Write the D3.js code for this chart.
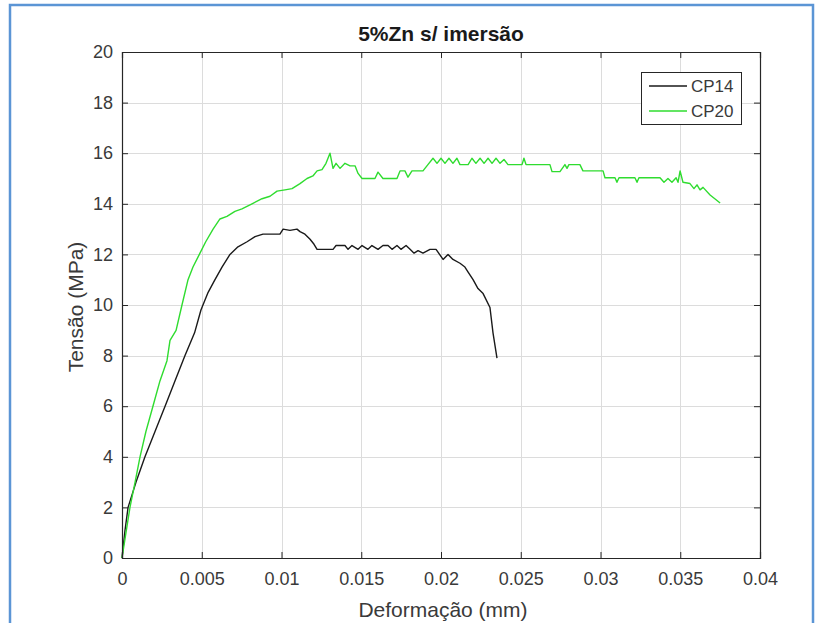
<!DOCTYPE html>
<html>
<head>
<meta charset="utf-8">
<script src="https://cdn.jsdelivr.net/npm/d3@7"></script>
<style>
  html, body { margin: 0; padding: 0; background: #fff; }
  svg { display: block; font-family: "Liberation Sans", Arial, sans-serif; }
</style>
</head>
<body>
<svg id="chart" width="827" height="623"></svg>
<script>
// ---- Data (strain in mm, stress in MPa) ----
const titleText = "5%Zn s/ imersão";
const xLabelText = "Deformação (mm)";
const yLabelText = "Tensão (MPa)";
const seriesNames = ["CP14", "CP20"];
const xTicks = [0, 0.005, 0.01, 0.015, 0.02, 0.025, 0.03, 0.035, 0.04];
const yTicks = [0, 2, 4, 6, 8, 10, 12, 14, 16, 18, 20];

const cp14 = [
  [0,0],[0.00019,1.1],[0.00038,2.0],[0.00088,3.0],[0.00144,4.0],[0.00207,5.0],
  [0.0027,6.0],[0.00332,7.0],[0.00395,8.0],[0.00455,8.9],[0.00495,9.8],[0.0054,10.5],
  [0.00583,11.0],[0.00627,11.5],[0.00677,12.0],[0.00727,12.3],[0.00784,12.5],[0.00834,12.7],
  [0.00884,12.8],[0.0094,12.8],[0.0099,12.8],[0.0101,13.0],[0.01053,12.95],[0.01097,13.0],
  [0.01116,12.9],[0.01147,12.8],[0.01179,12.6],[0.01204,12.4],[0.01223,12.2],[0.01273,12.2],
  [0.01323,12.2],[0.01342,12.35],[0.01398,12.35],[0.01417,12.2],[0.01442,12.35],[0.0148,12.2],
  [0.01505,12.35],[0.01542,12.2],[0.01567,12.35],[0.01605,12.2],[0.01636,12.35],[0.01668,12.35],
  [0.01693,12.2],[0.01724,12.35],[0.01749,12.2],[0.01781,12.35],[0.01806,12.2],[0.01831,12.05],
  [0.01856,12.15],[0.01887,12.05],[0.01931,12.2],[0.01969,12.2],[0.02013,11.8],[0.02044,12.0],
  [0.02075,11.8],[0.02119,11.65],[0.0215,11.5],[0.0217,11.3],[0.02201,11.0],[0.02232,10.65],
  [0.02264,10.45],[0.02307,9.9],[0.02326,8.9],[0.02351,7.9]
];

const cp20 = [
  [0,0],[0.00025,1.0],[0.0005,2.0],[0.00082,3.0],[0.00113,4.0],[0.0015,5.0],[0.00194,6.0],
  [0.00238,7.0],[0.00282,7.8],[0.00301,8.6],[0.00339,9.0],[0.00376,10.0],[0.00414,11.0],
  [0.00445,11.5],[0.00485,12.0],[0.00525,12.5],[0.00571,13.0],[0.00614,13.4],[0.00658,13.5],
  [0.00708,13.7],[0.00752,13.8],[0.00815,14.0],[0.00878,14.2],[0.00928,14.3],[0.00972,14.5],
  [0.01022,14.55],[0.01066,14.6],[0.01116,14.8],[0.0116,15.0],[0.01197,15.1],[0.01223,15.3],
  [0.01254,15.35],[0.01279,15.6],[0.01304,16.0],[0.01323,15.4],[0.01342,15.6],[0.01367,15.4],
  [0.01398,15.6],[0.0143,15.5],[0.01461,15.5],[0.0148,15.2],[0.01505,15.0],[0.01586,15.0],
  [0.01605,15.25],[0.01636,15.0],[0.01724,15.0],[0.01743,15.3],[0.01774,15.3],[0.01793,15.05],
  [0.01818,15.3],[0.01887,15.3],[0.01918,15.55],[0.0195,15.8],[0.01975,15.6],[0.02,15.8],
  [0.02025,15.6],[0.0205,15.8],[0.02075,15.6],[0.021,15.8],[0.02119,15.55],[0.0217,15.55],
  [0.02194,15.8],[0.02219,15.6],[0.02245,15.8],[0.0227,15.6],[0.02295,15.8],[0.0232,15.6],
  [0.02345,15.8],[0.0237,15.6],[0.02395,15.75],[0.0242,15.55],[0.02508,15.55],[0.0252,15.8],
  [0.02533,15.55],[0.02683,15.55],[0.02696,15.27],[0.02746,15.27],[0.02777,15.55],[0.0279,15.4],
  [0.02802,15.55],[0.02871,15.55],[0.0289,15.3],[0.03016,15.3],[0.03028,15.03],[0.03091,15.03],
  [0.03103,14.85],[0.03116,15.03],[0.03216,15.03],[0.03229,14.85],[0.03241,15.03],[0.03373,15.03],
  [0.03398,14.85],[0.03423,15.0],[0.03448,14.85],[0.03474,15.03],[0.03486,14.85],[0.03499,15.3],
  [0.03517,14.85],[0.03561,14.8],[0.03586,14.6],[0.03605,14.75],[0.03624,14.55],[0.03643,14.65],
  [0.03687,14.35],[0.0375,14.03]
];

const seriesData = [cp14, cp20];
const seriesColors = ["#1a1a1a", "#2fdc2f"];

// ---- Layout ----
const svg = d3.select("#chart");
const L = 122, R = 760, T = 52, B = 558;
const x = d3.scaleLinear().domain([0, 0.04]).range([L, R]);
const y = d3.scaleLinear().domain([0, 20]).range([B, T]);
const axisColor = "#262626";
const textColor = "#3a3a3a";

// outer blue frame
svg.append("rect").attr("x", 10).attr("y", 5).attr("width", 803).attr("height", 640)
  .attr("fill", "none").attr("stroke", "#5b95d5").attr("stroke-width", 2.5);

// grid
const grid = svg.append("g").attr("stroke", "#dcdcdc").attr("stroke-width", 1);
grid.selectAll("line.gx").data(xTicks.slice(1, -1)).join("line")
  .attr("x1", d => Math.round(x(d)) + 0.5).attr("x2", d => Math.round(x(d)) + 0.5)
  .attr("y1", T).attr("y2", B);
grid.selectAll("line.gy").data(yTicks.slice(1, -1)).join("line")
  .attr("y1", d => Math.round(y(d)) + 0.5).attr("y2", d => Math.round(y(d)) + 0.5)
  .attr("x1", L).attr("x2", R);

// lines
const line = d3.line().x(d => x(d[0])).y(d => y(d[1]));
svg.append("g").selectAll("path").data(seriesData).join("path")
  .attr("d", line).attr("fill", "none")
  .attr("stroke", (d, i) => seriesColors[i]).attr("stroke-width", 1.4)
  .attr("stroke-linejoin", "round");

// axes (ticks inward, box on)
const tickLen = 6;
const xAxis = svg.append("g").attr("transform", `translate(0,${B})`)
  .call(d3.axisBottom(x).tickValues(xTicks).tickSize(-tickLen).tickPadding(14)
        .tickFormat(d => d3.format("")(+d.toFixed(3))));
const yAxis = svg.append("g").attr("transform", `translate(${L},0)`)
  .call(d3.axisLeft(y).tickValues(yTicks).tickSize(-tickLen).tickPadding(9));
const xTop = svg.append("g").attr("transform", `translate(0,${T})`)
  .call(d3.axisTop(x).tickValues(xTicks).tickSize(-tickLen).tickFormat(""));
const yRight = svg.append("g").attr("transform", `translate(${R},0)`)
  .call(d3.axisRight(y).tickValues(yTicks).tickSize(-tickLen).tickFormat(""));

[xAxis, yAxis, xTop, yRight].forEach(g => {
  g.select(".domain").attr("stroke", axisColor).attr("stroke-width", 1.2);
  g.selectAll(".tick line").attr("stroke", axisColor).attr("stroke-width", 1);
  g.selectAll(".tick text").attr("fill", textColor).style("font-size", "18px")
    .style("font-family", "'Liberation Sans', Arial, sans-serif");
});
xAxis.selectAll(".tick text").attr("dy", "0.71em");

// title and labels
svg.append("text").attr("x", 441).attr("y", 41).attr("text-anchor", "middle")
  .attr("font-weight", "bold").attr("font-size", 21).attr("fill", "#1a1a1a")
  .text(titleText);
svg.append("text").attr("x", 443).attr("y", 617).attr("text-anchor", "middle")
  .attr("font-size", 21).attr("fill", textColor).text(xLabelText);
svg.append("text").attr("transform", `translate(83,307) rotate(-90)`)
  .attr("text-anchor", "middle").attr("font-size", 21).attr("fill", textColor)
  .text(yLabelText);

// legend
const lg = svg.append("g");
lg.append("rect").attr("x", 641.5).attr("y", 72.5).attr("width", 100).attr("height", 52)
  .attr("fill", "#fff").attr("stroke", axisColor).attr("stroke-width", 1);
seriesNames.forEach((name, i) => {
  const yy = 86 + i * 25;
  lg.append("line").attr("x1", 649).attr("x2", 687).attr("y1", yy).attr("y2", yy)
    .attr("stroke", seriesColors[i]).attr("stroke-width", 1.3);
  lg.append("text").attr("x", 691).attr("y", yy).attr("dy", "0.35em")
    .attr("font-size", 17).attr("fill", textColor).text(name);
});
</script>
</body>
</html>
